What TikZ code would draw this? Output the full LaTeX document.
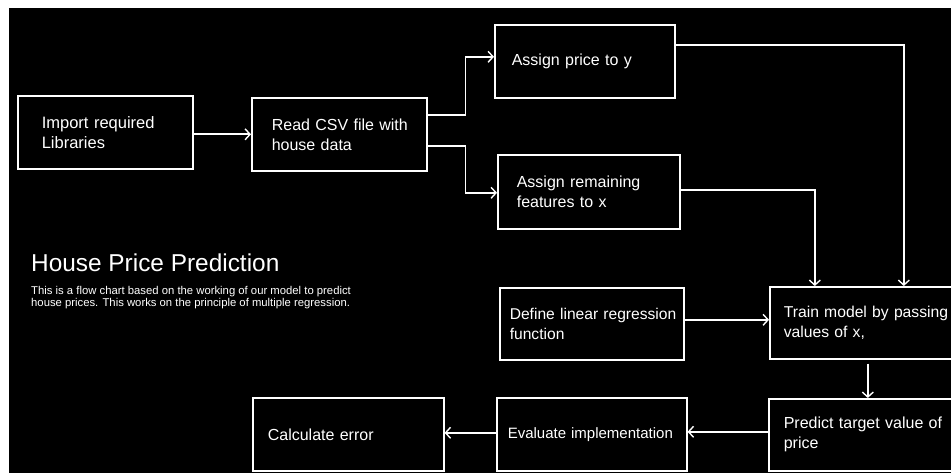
\documentclass[tikz,border=0pt]{standalone}
\usepackage{fontspec}
\setmainfont{Liberation Sans}
\usetikzlibrary{arrows.meta}
\begin{document}
\begin{tikzpicture}[x=1pt,y=-1pt,
  box/.style={draw=white, line width=1.6pt, rectangle, anchor=north west,
    align=left, text=white, inner ysep=0pt, font=\fontsize{16}{20}\selectfont},
  conn/.style={draw=white, line width=1.6pt,
    -{Straight Barb[length=5pt,width=11pt,line width=1.4pt]}},
]
\useasboundingbox (0,0) rectangle (951,473);
\clip (0,0) rectangle (951,473);
\fill[white] (0,0) rectangle (951,473);
\fill[black] (9,8) rectangle (951,473);

% boxes
\node[box, minimum width=175pt, minimum height=73pt, inner xsep=24pt, text width=127pt,
  font=\fontsize{16.5}{20}\selectfont] (imp) at (17,95) {Import required\\Libraries};
\node[box, minimum width=175pt, minimum height=73pt, inner xsep=20pt, text width=135pt] (csv) at (251,97) {\mbox{Read CSV file with}\\house data};
\node[box, minimum width=180pt, minimum height=73pt, inner xsep=17pt, text width=146pt] (pricey) at (494,24) {Assign price to y};
\node[box, minimum width=182pt, minimum height=74pt, inner xsep=19pt, text width=144pt] (featx) at (497,154) {Assign remaining\\features to x};
\node[box, minimum width=184pt, minimum height=72pt, inner xsep=10pt, text width=164pt,
  font=\fontsize{15.6}{20}\selectfont] (define) at (499,287) {\mbox{Define linear regression}\\function};
\node[box, minimum width=200pt, minimum height=72pt, inner xsep=14pt, text width=172pt,
  font=\fontsize{15.7}{20}\selectfont] (train) at (769,286) {\mbox{Train model by passing}\\values of x,};
\node[box, minimum width=200pt, minimum height=72pt, inner xsep=15pt, text width=170pt] (predict) at (768,398) {\mbox{Predict target value of}\\price};
\node[box, minimum width=190pt, minimum height=73pt, inner xsep=11pt, text width=168pt,
  font=\fontsize{15}{20}\selectfont] (evaluate) at (496,397) {\mbox{Evaluate implementation}};
\node[box, minimum width=191pt, minimum height=73pt, inner xsep=15pt, text width=161pt] (calc) at (252,397) {Calculate error};

% title and description
\node[anchor=base west, inner sep=0pt, text=white, font=\fontsize{24.4}{28}\selectfont] (title) at (31,272) {House Price Prediction};
\node[anchor=base west, inner sep=0pt, text=white, align=left, font=\fontsize{11.3}{10.5}\selectfont] (desc) at (31,306)
  {This is a flow chart based on the working of our model to predict\\house prices. This works on the principle of multiple regression.};

% connectors
\draw[conn] (imp.east |- csv.west) -- (csv.west);
\draw[conn] ([yshift=19.5pt]csv.east) -- ++(38,0) |- ([yshift=4.5pt]pricey.west);
\draw[conn] ([yshift=-11.5pt]csv.east) -- ++(38,0) |- ([yshift=-1pt]featx.west);
\draw[conn] ([yshift=16.5pt]pricey.east) -| ([xshift=34pt]train.north);
\draw[conn] ([yshift=2pt]featx.east) -| ([xshift=-55pt]train.north);
\draw[conn] ([yshift=4pt]define.east) -- ([yshift=3pt]train.west);
\draw[conn, shorten <=4pt] ([xshift=-2pt]train.south) -- ([xshift=-1pt]predict.north);
\draw[conn] ([yshift=3pt]predict.west) -- ([yshift=2.5pt]evaluate.east);
\draw[conn] ([yshift=1.5pt]evaluate.west) -- ([yshift=1.5pt]calc.east);
\end{tikzpicture}
\end{document}
